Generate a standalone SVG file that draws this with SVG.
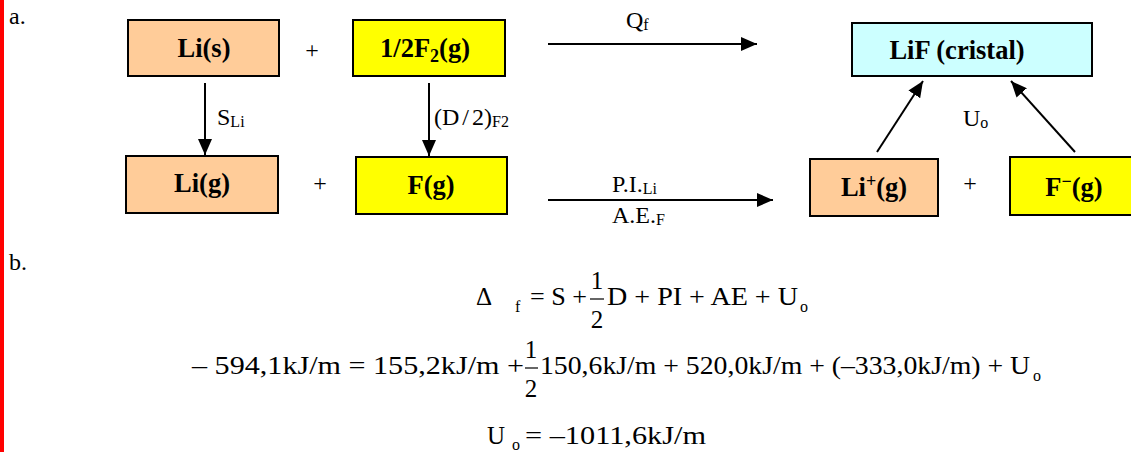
<svg xmlns="http://www.w3.org/2000/svg" width="1131" height="452" viewBox="0 0 1131 452">
<style>
.box{stroke:#000;stroke-width:2}
.peach{fill:#FFCC99}
.yellow{fill:#FFFF00}
.cyan{fill:#CCFFFF}
.bt{font-family:"Liberation Serif",serif;font-weight:bold;font-size:26.5px;fill:#000;text-anchor:middle}
.lb{font-family:"Liberation Serif",serif;font-size:24px;fill:#000}
.eq{font-family:"Liberation Serif",serif;font-size:25px;fill:#000}
.sub{font-size:16px}
.conn{stroke:#000;stroke-width:2;fill:none}
</style>
<defs>
<marker id="ah" markerUnits="userSpaceOnUse" markerWidth="16" markerHeight="14" refX="16" refY="7" orient="auto">
<path d="M0,0 L16,7 L0,14 Z" fill="#000"/>
</marker>
</defs>
<rect x="0" y="0" width="4" height="452" fill="#FF0000"/>
<text class="lb" x="9" y="24">a.</text>
<text class="lb" x="9" y="270">b.</text>

<g id="li-s"><rect class="box peach" x="128" y="20" width="151" height="56"/><text class="bt" x="204" y="57">Li(s)</text></g>
<text class="lb" x="312" y="58" text-anchor="middle">+</text>
<g id="half-f2"><rect class="box yellow" x="353" y="20" width="152" height="56"/><text class="bt" x="425" y="57">1/2F<tspan font-size="18" dy="5">2</tspan><tspan dy="-5">(g)</tspan></text></g>
<g id="lif"><rect class="box cyan" x="852" y="23" width="240" height="53"/><text class="bt" x="957" y="59">LiF (cristal)</text></g>
<g id="li-g"><rect class="box peach" x="126" y="156" width="152" height="57"/><text class="bt" x="202" y="192">Li(g)</text></g>
<text class="lb" x="320" y="191" text-anchor="middle">+</text>
<g id="f-g"><rect class="box yellow" x="356" y="157" width="151" height="57"/><text class="bt" x="431" y="194">F(g)</text></g>
<g id="li-plus"><rect class="box peach" x="810" y="159" width="128" height="57"/><text class="bt" x="874" y="196">Li<tspan font-size="18" dy="-9">+</tspan><tspan dy="9">(g)</tspan></text></g>
<text class="lb" x="970" y="191" text-anchor="middle">+</text>
<g id="f-minus"><rect class="box yellow" x="1010" y="157" width="130" height="58"/><text class="bt" x="1074" y="196">F<tspan font-size="18" dy="-9">−</tspan><tspan dy="9">(g)</tspan></text></g>

<g id="connectors">
<line class="conn" x1="205" y1="83" x2="205" y2="155" marker-end="url(#ah)"/>
<line class="conn" x1="429" y1="83" x2="429" y2="156" marker-end="url(#ah)"/>
<line class="conn" x1="548" y1="44" x2="757" y2="44" marker-end="url(#ah)"/>
<line class="conn" x1="548" y1="200" x2="773" y2="200" marker-end="url(#ah)"/>
<line class="conn" x1="877" y1="152" x2="923" y2="81" marker-end="url(#ah)"/>
<line class="conn" x1="1075" y1="152" x2="1011" y2="81" marker-end="url(#ah)"/>
</g>
<text class="lb" x="217" y="125">S<tspan class="sub" dy="2">Li</tspan></text>
<text class="lb" x="434" y="125">(D<tspan dx="3">/</tspan><tspan dx="3">2)</tspan><tspan class="sub" dy="2">F2</tspan></text>
<text class="lb" x="626" y="28">Q<tspan class="sub" dy="2">f</tspan></text>
<text class="lb" x="963" y="126">U<tspan class="sub" dy="2">o</tspan></text>
<text class="lb" x="612" y="192">P.I.<tspan class="sub" dy="2">Li</tspan></text>
<text class="lb" x="612" y="223">A.E.<tspan class="sub" dy="2">F</tspan></text>

<g id="equations">
<text class="eq" x="476" y="305">Δ</text>
<text class="eq sub" x="515" y="312">f</text>
<text class="eq" x="530" y="305" textLength="57" lengthAdjust="spacingAndGlyphs">= S +</text>
<text class="eq" x="597" y="289" text-anchor="middle">1</text>
<line x1="590" y1="299" x2="604" y2="299" stroke="#000" stroke-width="1.2"/>
<text class="eq" x="597" y="328" text-anchor="middle">2</text>
<text class="eq" x="607" y="305" textLength="191" lengthAdjust="spacingAndGlyphs">D + PI + AE + U</text>
<text class="eq sub" x="800" y="312">o</text>

<text class="eq" x="192" y="374" textLength="332" lengthAdjust="spacingAndGlyphs">– 594,1kJ/m = 155,2kJ/m +</text>
<text class="eq" x="531" y="358" text-anchor="middle">1</text>
<line x1="525" y1="368" x2="538" y2="368" stroke="#000" stroke-width="1.2"/>
<text class="eq" x="531" y="397" text-anchor="middle">2</text>
<text class="eq" x="540" y="374" textLength="490" lengthAdjust="spacingAndGlyphs">150,6kJ/m + 520,0kJ/m + (–333,0kJ/m) + U</text>
<text class="eq sub" x="1033" y="381">o</text>

<text class="eq" x="487" y="444">U</text>
<text class="eq sub" x="512" y="450">o</text>
<text class="eq" x="525" y="444" textLength="181" lengthAdjust="spacingAndGlyphs">= –1011,6kJ/m</text>
</g>
</svg>
